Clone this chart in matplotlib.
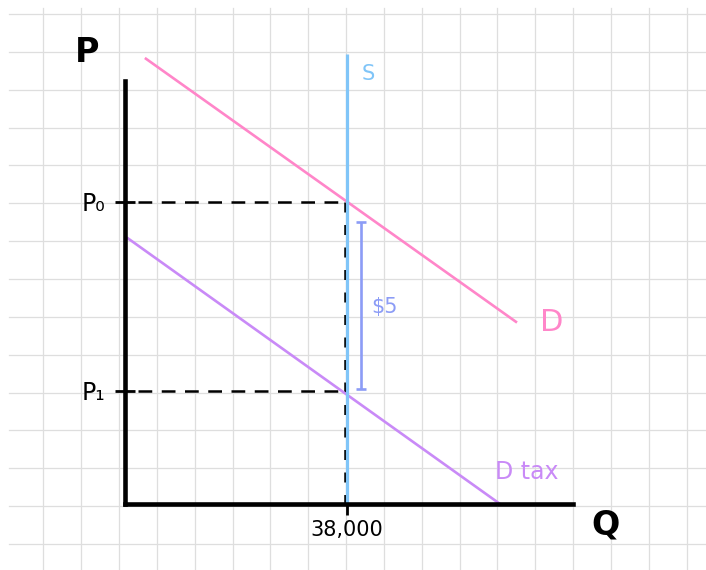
import numpy as np
import matplotlib
matplotlib.use("Agg")
import matplotlib.pyplot as plt
import matplotlib.transforms as mtransforms

# ---------------- data ----------------
q_eq = 38000
p0 = 8.0
p1 = 3.0
tax = 5.0
demand_q = [3400, 67100]
demand_p = [11.8, 4.8]
dtax_q = [300, 64200]
dtax_p = [7.05, 0.0]
supply_q = [q_eq, q_eq]
supply_p = [0.0, 11.9]
bracket_q = 40400
bracket_p = [3.05, 7.45]
p_axis_top = 11.2
q_axis_end = 76700
guide_start_q = 2200
price_ticks = [p1, p0]
price_labels = ["P₁", "P₀"]
qty_ticks = [q_eq]
qty_labels = ["38,000"]
series_labels = {"S": "S", "D": "D", "Dtax": "D tax", "tax": "$5"}

# ---------------- layout / style ----------------
W, H = 706, 570
origin_x, origin_y = 125, 504          # pixel position of (0, 0)
px_per_q = 222 / 38000
px_per_p = 37.8

PINK = "#ff86c9"
PURPLE = "#c98af7"
BLUE = "#80c5f8"
PERI = "#8c9cf6"
GRID = "#dedede"

fig = plt.figure(figsize=(W / 100, H / 100), dpi=100)
fig.patch.set_facecolor("white")

# background graph-paper grid (pixel coordinates)
bg = fig.add_axes([0, 0, 1, 1])
bg.set_xlim(0, W)
bg.set_ylim(H, 0)
bg.axis("off")
gx0, gdx, gnx = 43.4, 37.83, 18
gy0, gdy, gny = 14.0, 37.86, 15
for k in range(gnx):
    x = gx0 + k * gdx
    bg.plot([x, x], [8, H], color=GRID, lw=0.9, zorder=0)
for k in range(gny):
    y = gy0 + k * gdy
    bg.plot([9, W], [y, y], color=GRID, lw=0.9, zorder=0)

# main economic axes
ax = fig.add_axes([0, 0, 1, 1])
ax.patch.set_alpha(0)
ax.set_xlim(-origin_x / px_per_q, (W - origin_x) / px_per_q)
ax.set_ylim(-(H - origin_y) / px_per_p, origin_y / px_per_p)

for s in ["top", "right"]:
    ax.spines[s].set_visible(False)
ax.spines["left"].set_position(("data", 0))
ax.spines["bottom"].set_position(("data", 0))
ax.spines["left"].set_bounds(0, p_axis_top)
ax.spines["bottom"].set_bounds(0, q_axis_end)
for s in ["left", "bottom"]:
    ax.spines[s].set_linewidth(3.3)
    ax.spines[s].set_capstyle("projecting")
    ax.spines[s].set_zorder(5)

ax.set_yticks(price_ticks, price_labels)
ax.set_xticks(qty_ticks, qty_labels)
ax.tick_params(axis="y", direction="inout", length=14.5, width=2.0,
               pad=7, labelsize=17)
ax.tick_params(axis="x", direction="out", length=8, width=2.0,
               pad=3.5, labelsize=15)

# curves
ax.plot(demand_q, demand_p, color=PINK, lw=1.9, solid_capstyle="butt", zorder=3)
ax.plot(dtax_q, dtax_p, color=PURPLE, lw=1.9, solid_capstyle="butt", zorder=3)

# dashed guides
ax.plot([guide_start_q, q_eq], [p0, p0], color="black", lw=1.8, ls=(0, (5.5, 3.8)), zorder=2)
ax.plot([guide_start_q, q_eq], [p1, p1], color="black", lw=1.8, ls=(0, (5.5, 3.8)), zorder=2)
shift = mtransforms.offset_copy(ax.transData, fig=fig, x=-2.5, y=0, units="dots")
ax.plot([q_eq, q_eq], [p0, 0], color="black", lw=1.8, ls=(0, (4, 5)),
        transform=shift, zorder=2)

# supply
ax.plot(supply_q, supply_p, color=BLUE, lw=2.3, solid_capstyle="butt", zorder=4)

# $5 bracket
mid = np.mean(bracket_p)
ax.errorbar([bracket_q], [mid],
            yerr=[[mid - bracket_p[0]], [bracket_p[1] - mid]],
            fmt="none", ecolor=PERI, elinewidth=1.9, capsize=3.8, capthick=1.9, zorder=4)

# labels
fam = ["DejaVu Sans"]
ax.annotate(series_labels["S"], xy=(supply_q[1], supply_p[1]), xytext=(15, -14),
            textcoords="offset points", ha="center", va="center",
            color=BLUE, fontsize=15, family=fam)
ax.annotate(series_labels["D"], xy=(demand_q[1], demand_p[1]), xytext=(25, 0),
            textcoords="offset points", ha="center", va="center",
            color=PINK, fontsize=22, family=fam)
ax.annotate(series_labels["Dtax"], xy=(dtax_q[1], dtax_p[1]), xytext=(19.5, 23),
            textcoords="offset points", ha="center", va="center",
            color=PURPLE, fontsize=17, family=fam)
ax.annotate(series_labels["tax"], xy=(bracket_q, mid), xytext=(17, -1),
            textcoords="offset points", ha="center", va="center",
            color=PERI, fontsize=15, family=fam)
ax.annotate("P", xy=(0, p_axis_top), xytext=(-27, 20),
            textcoords="offset points", ha="center", va="center",
            color="black", fontsize=24, fontweight="bold", family=fam)
ax.annotate("Q", xy=(q_axis_end, 0), xytext=(23, -15),
            textcoords="offset points", ha="center", va="center",
            color="black", fontsize=24, fontweight="bold", family=fam)

fig.savefig("out.png", dpi=100, facecolor="white")
